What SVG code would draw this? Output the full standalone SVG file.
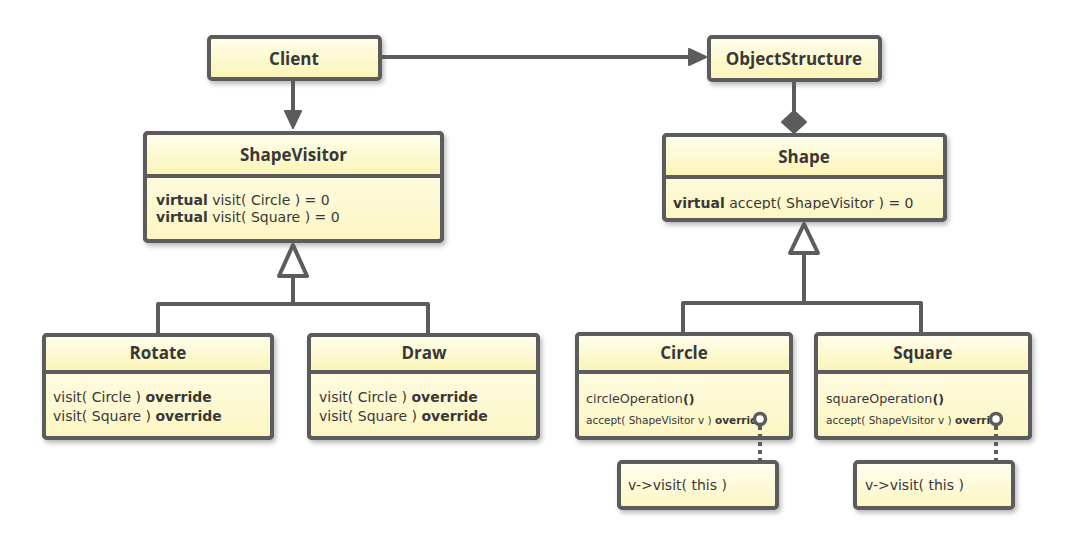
<svg xmlns="http://www.w3.org/2000/svg" width="1067" height="558" viewBox="0 0 1067 558">
<defs>
<linearGradient id="gh" x1="0" y1="0" x2="0" y2="1"><stop offset="0" stop-color="#fffeec"/><stop offset="1" stop-color="#fbf4b6"/></linearGradient>
<linearGradient id="gb" x1="0" y1="0" x2="0" y2="1"><stop offset="0" stop-color="#fffef2"/><stop offset="1" stop-color="#fcf6c2"/></linearGradient>
<filter id="sh" x="-10%" y="-10%" width="125%" height="135%"><feDropShadow dx="2" dy="3" stdDeviation="2.5" flood-color="#000" flood-opacity="0.28"/></filter>
<clipPath id="clipShape"><rect x="664" y="180" width="280" height="29.5"/></clipPath>
<clipPath id="clipC"><rect x="580" y="400" width="180" height="40"/></clipPath>
<clipPath id="clipS"><rect x="820" y="400" width="176" height="40"/></clipPath>
</defs>
<style>
.box{fill:url(#gb);stroke:#5c5c5c;stroke-width:4;filter:url(#sh)}
.hdr{fill:url(#gh)}
.brd{fill:none;stroke:#5c5c5c;stroke-width:4}
.div{stroke:#5c5c5c;stroke-width:4}
.t{font-family:"DejaVu Sans",sans-serif;fill:#383838}
.ti{font-family:"Open Sans","DejaVu Sans",sans-serif;font-size:17px;font-weight:bold;text-anchor:middle}
.b{font-size:14px}
.s{font-size:12.7px}
.xs{font-size:10.5px}
.bold{font-weight:bold}
.ln{fill:none;stroke:#5c5c5c;stroke-width:4;stroke-linejoin:round}
.ah{fill:#5c5c5c;stroke:#5c5c5c;stroke-width:2;stroke-linejoin:round}
.tri{fill:#fff;stroke:#5c5c5c;stroke-width:4;stroke-linejoin:round}
.dot{fill:none;stroke:#5c5c5c;stroke-width:4;stroke-dasharray:4 4}
.pin{fill:#fff;stroke:#5c5c5c;stroke-width:3.5}
</style>
<rect width="1067" height="558" fill="#fff"/>

<g id="client">
<rect class="box" x="209" y="37" width="171" height="42" rx="3" style="fill:url(#gh)"/>
<text class="t ti" x="294" y="65">Client</text>
</g>

<g id="objectstructure">
<rect class="box" x="709" y="37" width="171" height="43" rx="3" style="fill:url(#gh)"/>
<text class="t ti" x="794" y="65">ObjectStructure</text>
</g>

<g id="shapevisitor">
<rect class="box" x="145" y="133" width="297" height="108" rx="3"/>
<rect class="hdr" x="147" y="135" width="293" height="41"/>
<line class="div" x1="145" y1="176" x2="442" y2="176"/>
<rect class="brd" x="145" y="133" width="297" height="108" rx="3"/>
<text class="t ti" x="293.5" y="161">ShapeVisitor</text>
<text class="t b" x="156" y="205"><tspan class="bold">virtual</tspan> visit( Circle ) = 0</text>
<text class="t b" x="156" y="222"><tspan class="bold">virtual</tspan> visit( Square ) = 0</text>
</g>

<g id="shape">
<rect class="box" x="664" y="135" width="281" height="85" rx="3"/>
<rect class="hdr" x="666" y="137" width="277" height="40"/>
<line class="div" x1="664" y1="177" x2="945" y2="177"/>
<rect class="brd" x="664" y="135" width="281" height="85" rx="3"/>
<text class="t ti" x="804" y="163">Shape</text>
<text class="t b" x="673" y="208" clip-path="url(#clipShape)"><tspan class="bold">virtual</tspan> accept( ShapeVisitor ) = 0</text>
</g>

<g id="rotate">
<rect class="box" x="44" y="335" width="228" height="103" rx="3"/>
<rect class="hdr" x="46" y="337" width="224" height="35"/>
<line class="div" x1="44" y1="372" x2="272" y2="372"/>
<rect class="brd" x="44" y="335" width="228" height="103" rx="3"/>
<text class="t ti" x="158" y="359">Rotate</text>
<text class="t b" x="53" y="402">visit( Circle ) <tspan class="bold">override</tspan></text>
<text class="t b" x="53" y="421">visit( Square ) <tspan class="bold">override</tspan></text>
</g>

<g id="draw">
<rect class="box" x="309" y="335" width="229" height="103" rx="3"/>
<rect class="hdr" x="311" y="337" width="225" height="35"/>
<line class="div" x1="309" y1="372" x2="538" y2="372"/>
<rect class="brd" x="309" y="335" width="229" height="103" rx="3"/>
<text class="t ti" x="424" y="359">Draw</text>
<text class="t b" x="319" y="402">visit( Circle ) <tspan class="bold">override</tspan></text>
<text class="t b" x="319" y="421">visit( Square ) <tspan class="bold">override</tspan></text>
</g>

<g id="circle">
<rect class="box" x="577" y="334" width="214" height="104" rx="3"/>
<rect class="hdr" x="579" y="336" width="210" height="36"/>
<line class="div" x1="577" y1="372" x2="791" y2="372"/>
<rect class="brd" x="577" y="334" width="214" height="104" rx="3"/>
<text class="t ti" x="684" y="359">Circle</text>
<text class="t s" x="586" y="403">circleOperation<tspan class="bold">()</tspan></text>
<text class="t xs" x="586" y="424" clip-path="url(#clipC)">accept( ShapeVisitor v ) <tspan class="bold">override</tspan></text>
</g>

<g id="square">
<rect class="box" x="816" y="334" width="214" height="104" rx="3"/>
<rect class="hdr" x="818" y="336" width="210" height="36"/>
<line class="div" x1="816" y1="372" x2="1030" y2="372"/>
<rect class="brd" x="816" y="334" width="214" height="104" rx="3"/>
<text class="t ti" x="923" y="359">Square</text>
<text class="t s" x="826" y="403">squareOperation<tspan class="bold">()</tspan></text>
<text class="t xs" x="826" y="424" clip-path="url(#clipS)">accept( ShapeVisitor v ) <tspan class="bold">override</tspan></text>
</g>

<g id="note-circle">
<rect class="box" x="619" y="462" width="158" height="46" rx="3"/>
<text class="t b" x="628" y="490">v-&gt;visit( this )</text>
</g>

<g id="note-square">
<rect class="box" x="855" y="462" width="158" height="46" rx="3"/>
<text class="t b" x="865" y="490">v-&gt;visit( this )</text>
</g>

<g id="connectors">
<line class="ln" x1="293" y1="81" x2="293" y2="112"/>
<polygon class="ah" points="285,111 301,111 293,128"/>
<line class="ln" x1="381" y1="57" x2="690" y2="57"/>
<polygon class="ah" points="689,49 689,65 706,57"/>
<line class="ln" x1="794" y1="81" x2="794" y2="112"/>
<polygon class="ah" points="794,111 806,122 794,133 782,122"/>
<polyline class="ln" points="158,333 158,304 428,304 428,333"/>
<line class="ln" x1="293" y1="276" x2="293" y2="304"/>
<polygon class="tri" points="293,245 307,276 279,276"/>
<polyline class="ln" points="683,332 683,303 921,303 921,332"/>
<line class="ln" x1="804" y1="253" x2="804" y2="303"/>
<polygon class="tri" points="804,224 818,253 790,253"/>
<line class="dot" x1="760" y1="426" x2="760" y2="461"/>
<line class="dot" x1="996" y1="426" x2="996" y2="461"/>
<circle class="pin" cx="760" cy="419" r="5.5"/>
<circle class="pin" cx="996" cy="419" r="5.5"/>
</g>
</svg>
